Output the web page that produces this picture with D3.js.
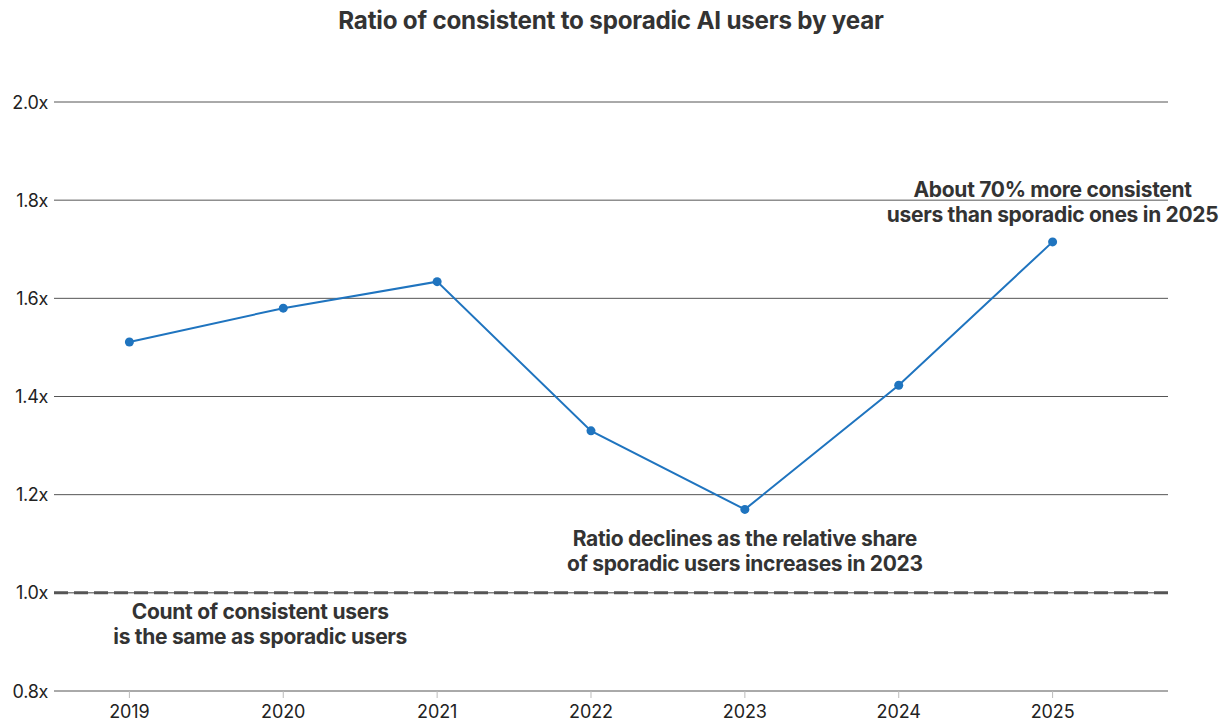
<!DOCTYPE html>
<html><head><meta charset="utf-8">
<script src="https://cdn.jsdelivr.net/npm/d3@7"></script>
<style>body{margin:0;background:#fff}svg{display:block;font-family:Inter,"Liberation Sans",sans-serif}</style>
</head><body><svg id="c" width="1232" height="722"></svg>
<script>
const years = [2019, 2020, 2021, 2022, 2023, 2024, 2025];
const ratios = [1.511, 1.580, 1.634, 1.330, 1.170, 1.423, 1.715];
const yTicks = [0.8, 1.0, 1.2, 1.4, 1.6, 1.8, 2.0];
const title = "Ratio of consistent to sporadic AI users by year";
const notes = [
  {x: 2025, y: 1.8, lines: ["About 70% more consistent", "users than sporadic ones in 2025"]},
  {x: 2023.0, y: 1.09, lines: ["Ratio declines as the relative share", "of sporadic users increases in 2023"]},
  {x: 2019.85, y: 0.94, lines: ["Count of consistent users", "is the same as sporadic users"]}
];

const svg = d3.select("#c");
const x = d3.scaleLinear().domain([2018.51, 2025.75]).range([54, 1168]);
const y = d3.scaleLinear().domain([0.8, 2.0]).range([691, 102]);

svg.append("text").attr("x", 611).attr("y", 29).attr("text-anchor", "middle")
  .attr("font-size", 24.2).attr("font-weight", 700).attr("fill", "#333").attr("letter-spacing", -0.2).text(title);

const g = svg.append("g");
g.selectAll("line.grid").data(yTicks.filter(d => d !== 1.0)).join("line")
  .attr("x1", 54).attr("x2", 1168).attr("y1", d => y(d)).attr("y2", d => y(d))
  .attr("stroke", "#555").attr("stroke-width", 1);
g.append("line").attr("x1", 54).attr("x2", 1168).attr("y1", y(1.0)).attr("y2", y(1.0))
  .attr("stroke", "#444").attr("stroke-width", 1);
g.append("line").attr("x1", 54).attr("x2", 1168).attr("y1", y(1.0)).attr("y2", y(1.0))
  .attr("stroke", "#555").attr("stroke-width", 3).attr("stroke-dasharray", "14,6");

g.selectAll("text.yl").data(yTicks).join("text")
  .attr("x", 48).attr("y", d => y(d) + 6.5).attr("text-anchor", "end")
  .attr("font-size", 18).attr("fill", "#222").attr("letter-spacing", -0.3)
  .text(d => d.toFixed(1) + "x");

g.selectAll("line.xt").data(years).join("line")
  .attr("x1", d => x(d)).attr("x2", d => x(d)).attr("y1", y(0.8)).attr("y2", y(0.8) + 7)
  .attr("stroke", "#bbb").attr("stroke-width", 1);
g.selectAll("text.xl").data(years).join("text")
  .attr("x", d => x(d)).attr("y", 718).attr("text-anchor", "middle")
  .attr("font-size", 18).attr("fill", "#222").attr("letter-spacing", -0.1).text(d => d);

const pts = years.map((yr, i) => [yr, ratios[i]]);
svg.append("path").datum(pts)
  .attr("d", d3.line().x(d => x(d[0])).y(d => y(d[1])))
  .attr("fill", "none").attr("stroke", "#1f74bf").attr("stroke-width", 2);
svg.selectAll("circle").data(pts).join("circle")
  .attr("cx", d => x(d[0])).attr("cy", d => y(d[1])).attr("r", 4.5).attr("fill", "#1f74bf");

notes.forEach(n => {
  const t = svg.append("text").attr("text-anchor", "middle")
    .attr("font-size", 21).attr("font-weight", 700).attr("fill", "#333").attr("letter-spacing", -0.3);
  n.lines.forEach((l, i) => {
    t.append("tspan").attr("x", x(n.x)).attr("y", y(n.y) - 3 + i * 25).text(l);
  });
});
</script></body></html>
